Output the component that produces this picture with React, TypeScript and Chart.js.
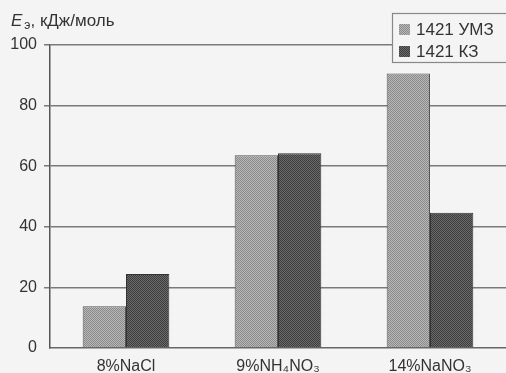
import React, { useEffect, useRef } from "react";
import { Chart, registerables } from "chart.js";

Chart.register(...registerables);

const categories = ["8%NaCl", "9%NH\u2084NO\u2083", "14%NaNO\u2083"];
const seriesNames = ["1421 УМЗ", "1421 КЗ"];
const umzValues = [13.8, 63.6, 90.6];
const kzValues = [24.4, 64.3, 44.6];
const yTicks = [0, 20, 40, 60, 80, 100];

function makePattern(a: string, b: string): CanvasPattern | string {
  const c = document.createElement("canvas");
  c.width = 2;
  c.height = 2;
  const g = c.getContext("2d");
  if (!g) return a;
  g.fillStyle = a;
  g.fillRect(0, 0, 2, 2);
  g.fillStyle = b;
  g.fillRect(0, 0, 1, 1);
  g.fillRect(1, 1, 1, 1);
  const p = g.createPattern(c, "repeat");
  return p || a;
}

export default function App() {
  const ref = useRef<HTMLCanvasElement | null>(null);
  useEffect(() => {
    if (!ref.current) return;
    const light = makePattern("#b8b8b8", "#8a8a8a");
    const dark = makePattern("#6a6a6a", "#3e3e3e");
    const FONT = "'Liberation Sans', Arial, sans-serif";

    const overlay = {
      id: "overlay",
      afterDraw(chart: any) {
        const ctx = chart.ctx as CanvasRenderingContext2D;
        ctx.save();
        // axis title
        ctx.fillStyle = "#333";
        ctx.textBaseline = "alphabetic";
        ctx.font = `italic 17px ${FONT}`;
        ctx.fillText("E", 11, 26);
        let x = 11 + ctx.measureText("E").width;
        ctx.font = `12px ${FONT}`;
        ctx.fillText("э", x + 2, 29);
        x += 2 + ctx.measureText("э").width;
        ctx.font = `17px ${FONT}`;
        ctx.fillText(", кДж/моль", x, 26);
        // legend
        const lx = 392, ly = 13, lw = 120, lh = 49;
        ctx.fillStyle = "#f4f4f4";
        ctx.fillRect(lx, ly, lw, lh);
        ctx.strokeStyle = "#888";
        ctx.lineWidth = 1.2;
        ctx.strokeRect(lx + 0.5, ly + 0.5, lw, lh);
        const fills = [light, dark];
        ctx.font = `17px ${FONT}`;
        ctx.textBaseline = "middle";
        for (let i = 0; i < seriesNames.length; i++) {
          const cy = ly + 16 + i * 22;
          ctx.fillStyle = fills[i] as any;
          ctx.fillRect(lx + 7, cy - 5, 11, 11);
          ctx.fillStyle = "#333";
          ctx.fillText(seriesNames[i], lx + 24, cy + 1);
        }
        ctx.restore();
      },
    };

    const chart = new Chart(ref.current, {
      type: "bar",
      data: {
        labels: categories,
        datasets: [
          {
            label: seriesNames[0],
            data: umzValues,
            backgroundColor: light as any,
            borderColor: "#555",
            borderWidth: 1,
          },
          {
            label: seriesNames[1],
            data: kzValues,
            backgroundColor: dark as any,
            borderColor: "#333",
            borderWidth: 1,
          },
        ],
      },
      options: {
        animation: false,
        responsive: false,
        maintainAspectRatio: false,
        layout: { padding: { top: 45, right: 0, left: 0, bottom: 0 } },
        datasets: { bar: { barPercentage: 1, categoryPercentage: 0.57 } },
        plugins: {
          legend: { display: false },
          tooltip: { enabled: false },
        },
        scales: {
          x: {
            grid: { display: false },
            border: { display: true, color: "#666", dash: [2, 2], width: 1.5 },
            ticks: {
              color: "#333",
              font: { family: FONT, size: 16 },
              padding: 1,
              maxRotation: 0,
            },
            afterFit(scale: any) {
              scale.height = 25;
            },
          },
          y: {
            min: 0,
            max: 100,
            afterBuildTicks(scale: any) {
              scale.ticks = yTicks.map((v) => ({ value: v }));
            },
            grid: {
              color: (c: any) => (c.tick && c.tick.value === 0 ? "rgba(0,0,0,0)" : "#7a7a7a"),
              lineWidth: 1.5,
              drawTicks: true,
              tickLength: 6,
            },
            border: { display: true, color: "#555", width: 1.5 },
            ticks: {
              color: "#333",
              font: { family: FONT, size: 16 },
              padding: 7,
            },
            afterFit(scale: any) {
              scale.width = 50;
            },
          },
        },
      },
      plugins: [overlay],
    });
    return () => chart.destroy();
  }, []);
  return (
    <div style={{ position: "fixed", left: 0, top: 0, width: 506, height: 373, background: "#f4f4f4" }}>
      <canvas ref={ref} width={506} height={373} style={{ display: "block" }} />
    </div>
  );
}
